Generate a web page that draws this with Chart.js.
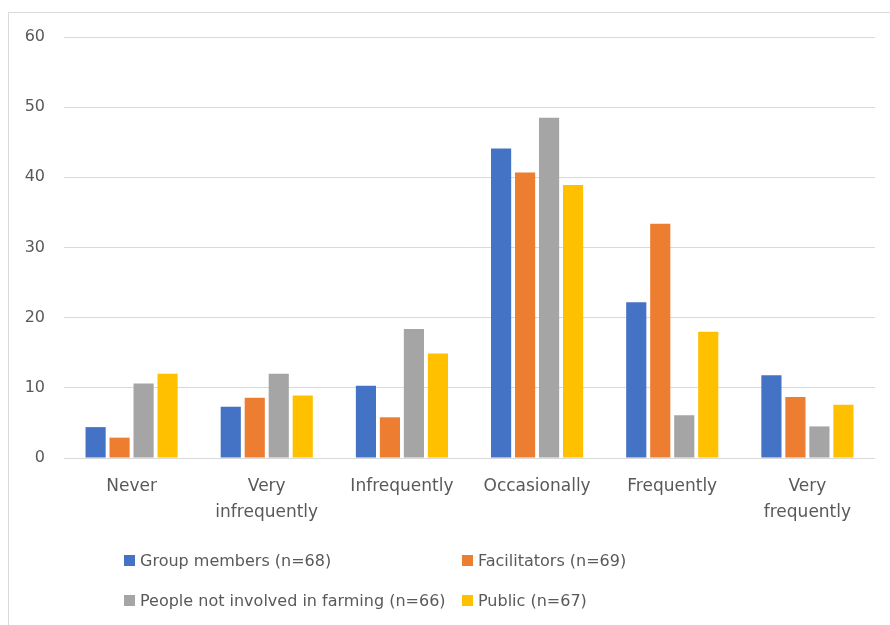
<!DOCTYPE html>
<html>
<head>
<meta charset="utf-8">
<script src="https://cdn.jsdelivr.net/npm/chart.js@4/dist/chart.umd.min.js"></script>
<style>
  html, body { margin: 0; padding: 0; background: #fff; }
  #wrap { position: relative; width: 890px; height: 625px; overflow: hidden; }
  #frame { position: absolute; left: 8px; top: 12px; width: 900px; height: 640px; border: 1px solid #d9d9d9; box-sizing: border-box; }
  #chart { position: absolute; left: 0; top: 0; }
  #legend { position: absolute; left: 0; top: 0; font-family: "DejaVu Sans", sans-serif; font-size: 16px; color: #595959; }
  #legend .item { position: absolute; white-space: nowrap; line-height: 20px; }
  #legend .box { display: inline-block; width: 11px; height: 11px; margin-right: 5px; vertical-align: 0px; }
</style>
</head>
<body>
<div id="wrap">
  <div id="frame"></div>
  <canvas id="chart" width="890" height="625"></canvas>
  <div id="legend"></div>
</div>
<script>
const CATEGORIES = ['Never', ['Very', 'infrequently'], 'Infrequently', 'Occasionally', 'Frequently', ['Very', 'frequently']];

const GROUP_MEMBERS = [4.4, 7.3, 10.3, 44.1, 22.2, 11.8];
const FACILITATORS = [2.9, 8.6, 5.8, 40.7, 33.4, 8.7];
const NOT_FARMING = [10.6, 12.0, 18.4, 48.5, 6.1, 4.5];
const PUBLIC = [12.0, 8.9, 14.9, 38.9, 18.0, 7.6];

const SERIES_LABELS = ['Group members (n=68)', 'Facilitators (n=69)', 'People not involved in farming (n=66)', 'Public (n=67)'];
const COLORS = ['#4472C4', '#ED7D31', '#A5A5A5', '#FFC000'];

const Y_TICKS = [0, 10, 20, 30, 40, 50, 60];

const textColor = '#595959';
const fontFamily = '"DejaVu Sans", sans-serif';

const chart = new Chart(document.getElementById('chart'), {
    type: 'bar',
    data: {
        labels: CATEGORIES,
        datasets: [GROUP_MEMBERS, FACILITATORS, NOT_FARMING, PUBLIC].map((d, i) => ({
            label: SERIES_LABELS[i],
            data: d,
            backgroundColor: COLORS[i],
            borderWidth: 0,
            barPercentage: 0.84,
            categoryPercentage: 0.71,
        })),
    },
    options: {
        responsive: false,
        animation: false,
        layout: {
            padding: { top: 37, right: 15, left: 0, bottom: 97 },
        },
        scales: {
            x: {
                grid: { display: false },
                border: { display: false },
                ticks: {
                    color: textColor,
                    font: { family: fontFamily, size: 17, lineHeight: 1.5 },
                    padding: 8,
                    maxRotation: 0,
                    autoSkip: false,
                },
                afterFit: s => { s.height = 70; },
            },
            y: {
                min: 0,
                max: 60,
                grid: { color: '#d9d9d9', lineWidth: 1, drawTicks: false },
                border: { display: false },
                afterBuildTicks: s => { s.ticks = Y_TICKS.map(v => ({ value: v })); },
                ticks: {
                    color: textColor,
                    font: { family: fontFamily, size: 16 },
                    padding: 19,
                },
                afterFit: s => { s.width = 64; },
            },
        },
        plugins: {
            legend: { display: false },
            tooltip: { enabled: false },
        },
    },
});

// two-column legend under the plot, built from the chart's datasets
const legendPos = [[124, 551], [462, 551], [124, 591], [462, 591]];
const legendEl = document.getElementById('legend');
chart.data.datasets.forEach((ds, i) => {
    const item = document.createElement('div');
    item.className = 'item';
    item.style.left = legendPos[i][0] + 'px';
    item.style.top = legendPos[i][1] + 'px';
    const box = document.createElement('span');
    box.className = 'box';
    box.style.background = ds.backgroundColor;
    item.appendChild(box);
    item.appendChild(document.createTextNode(ds.label));
    legendEl.appendChild(item);
});
</script>
</body>
</html>
